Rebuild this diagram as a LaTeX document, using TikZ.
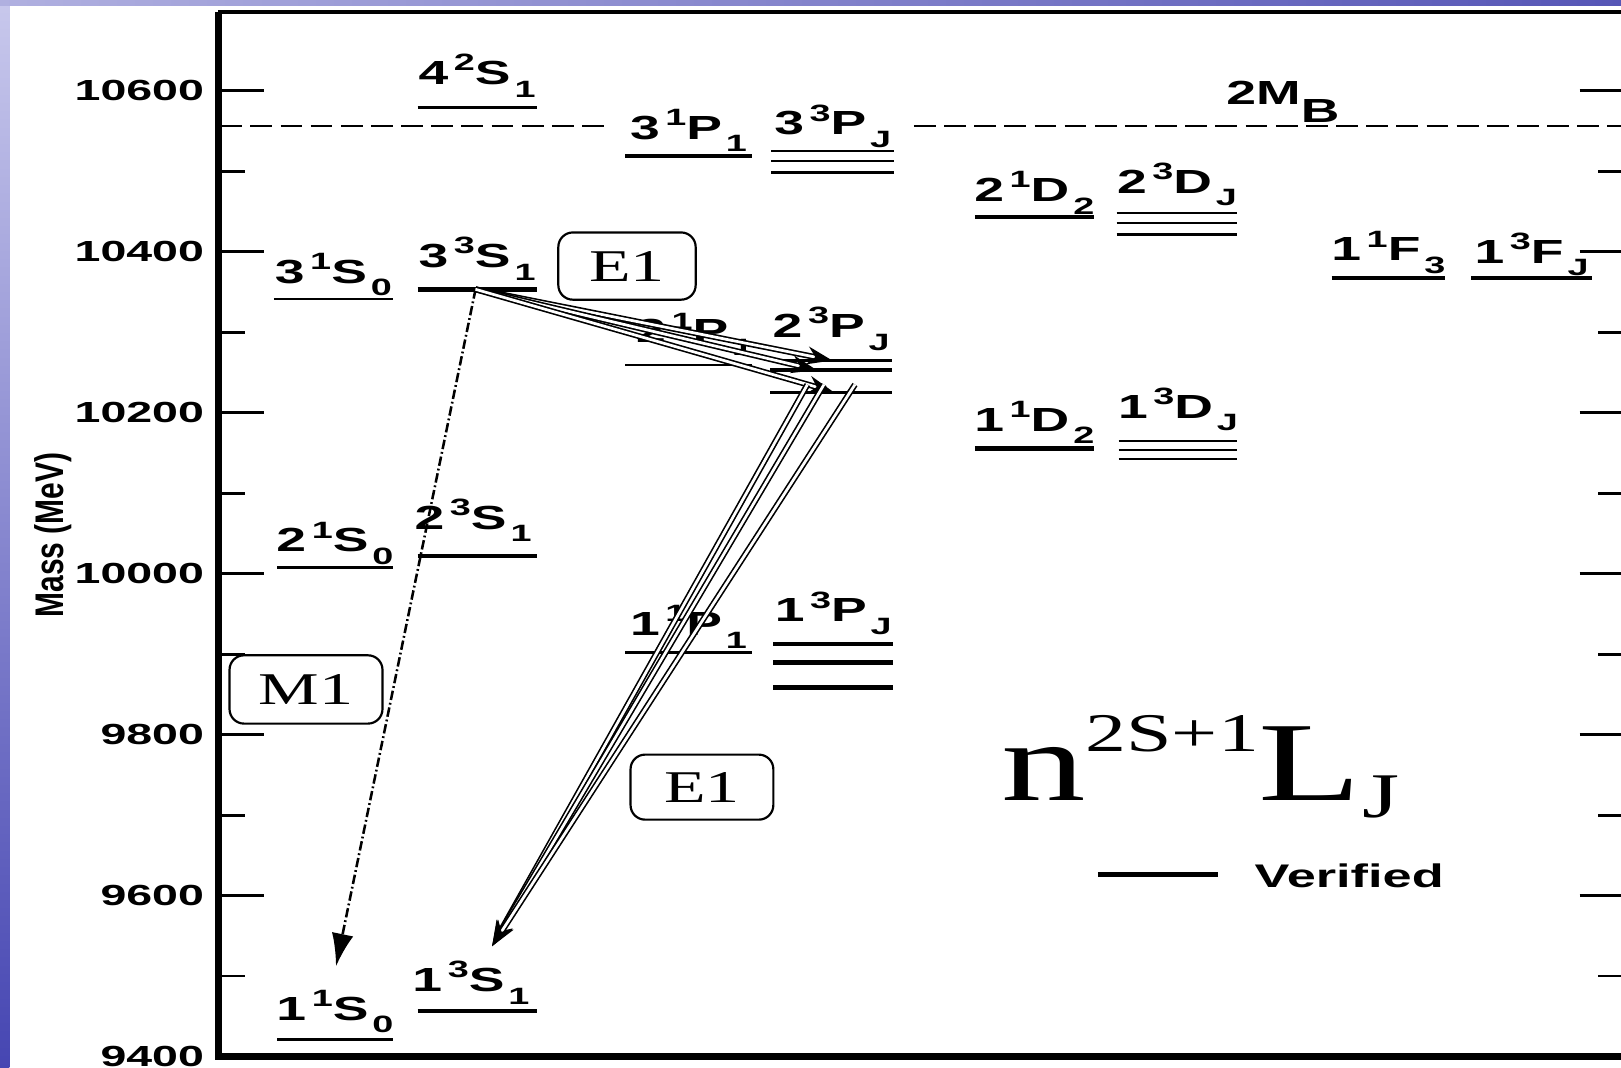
\documentclass[tikz,border=0pt]{standalone}
\usepackage{fontspec}
\setsansfont{Liberation Sans}
\newfontfamily\lblfont{Liberation Sans}[FakeStretch=1.6]
\newfontfamily\ttlfont{Liberation Sans}[FakeStretch=0.75]
\newfontfamily\serlbl{Liberation Serif}[FakeStretch=1.5]
\usepackage{tikz}
\usetikzlibrary{arrows.meta, positioning}
\definecolor{slidetop}{RGB}{200,200,236}
\definecolor{slidebot}{RGB}{70,70,178}
\definecolor{bandlt}{RGB}{176,176,224}
\definecolor{banddk}{RGB}{86,86,182}
\newcommand{\lvl}[4]{#1\,\raisebox{3.8pt}{\fontsize{6.5}{7}\selectfont #2}#3\raisebox{-3.5pt}{\fontsize{6.5}{7}\selectfont\,#4}}

\begin{document}
\begin{tikzpicture}[
  x=0.1mm, y=0.07783mm,
  every node/.style={inner sep=0pt},
  lbl/.style={font=\lblfont\bfseries\fontsize{9.2}{10}\selectfont},
  num/.style={font=\lblfont\bfseries\fontsize{8}{9}\selectfont, anchor=east},
  lvlbold/.style={line width=1.3pt},
  lvlmed/.style={line width=0.9pt},
  lvlthin/.style={line width=0.6pt},
  axis/.style={line width=2pt},
  tick/.style={line width=0.8pt},
  thresh/.style={line width=0.6pt, dash pattern=on 6pt off 2.3pt},
  mult/.style={draw, rounded corners=4pt, line width=0.6pt,
               font=\serlbl\fontsize{12.5}{13}\selectfont,
               minimum width=37.8pt, minimum height=18.5pt},
  mone/.style={line width=0.7pt, dash pattern=on 2.6pt off 0.8pt on 0.5pt off 0.8pt,
               -{Latex[length=9pt, width=6pt]}},
  eone/.style={double, line width=0.45pt, double distance=0.75pt,
               -{Stealth[length=7pt, width=5pt]}},
]

% ── page and slide border ──
\useasboundingbox (0,9385.87) rectangle (1568,10713.12);
\clip (0,9385.87) rectangle (1568,10713.12);
\fill[white] (0,9385.87) rectangle (1568,10713.12);
\shade[top color=slidetop, bottom color=slidebot] (0,9385.87) rectangle (9,10713.12);
\shade[left color=bandlt, right color=banddk] (0,10706.7) rectangle (1568,10713.12);

% ── frame and ticks ──
\coordinate (orig) at (211,9400);
\coordinate (ytop) at (211,10698.6);
\coordinate (xend) at (1574,9400);
\coordinate (corner) at (1574,10698.6);
\draw[line width=1.1pt] (ytop) -- (corner) -- (xend);
\draw[axis] (ytop) -- (orig) -- (xend);
\foreach \m in {9400,9600,...,10600}{
  \draw[tick] (213,\m) -- (255,\m);
  \draw[tick] (1528,\m) -- (1574,\m);
  \node[num] (t\m) at (198,\m) {\m};
}
\foreach \m in {9500,9700,...,10500}{
  \draw[tick] (213,\m) -- (237,\m);
  \draw[tick] (1546,\m) -- (1574,\m);
}
\node[font=\ttlfont\bfseries\fontsize{11}{12}\selectfont, rotate=90] (ytitle) at (51,10048) {Mass (MeV)};

% ── BB threshold ──
\draw[thresh] (213,10556.4) -- (588,10556.4);
\draw[thresh] (884,10556.4) -- (1574,10556.4);
\node[lbl, anchor=base] (mbb) at (1241,10582.7) {2M\raisebox{-4.8pt}{B}};

% ── S waves ──
\draw[lvlmed] (404,10579.5) -- (519,10579.5) coordinate[midway] (s4t);
\node[lbl, above=2.6pt of s4t] (l4s) {\lvl{4}{2}{S}{1}};
\draw[lvlthin] (265,10341.8) -- (380,10341.8) coordinate[midway] (s3s);
\node[lbl, above=0.5pt of s3s] (l3s0) {\lvl{3}{1}{S}{0}};
\draw[lvlbold] (404,10353.4) -- (519,10353.4) coordinate[midway] (s3t);
\node[lbl, above=2.3pt of s3t] (l3s1) {\lvl{3}{3}{S}{1}};
\draw[lvlmed] (268,10007.7) -- (380,10007.7) coordinate[midway] (s2s);
\node[lbl, above=0.5pt of s2s] (l2s0) {\lvl{2}{1}{S}{0}};
\draw[lvlbold] (404,10021.9) -- (519,10021.9) coordinate[midway] (s2t);
\node[lbl, above=3.7pt of s2t, xshift=-1.1pt] (l2s1) {\lvl{2}{3}{S}{1}};
\draw[lvlmed] (268,9420.6) -- (380,9420.6) coordinate[midway] (s1s);
\node[lbl, above=1.7pt of s1s] (l1s0) {\lvl{1}{1}{S}{0}};
\draw[lvlbold] (404,9456.5) -- (519,9456.5) coordinate[midway] (s1t);
\node[lbl, above=1.7pt of s1t, xshift=-1.7pt] (l1s1) {\lvl{1}{3}{S}{1}};

% ── P waves ──
\draw[lvlmed] (605,10519.1) -- (727,10519.1) coordinate[midway] (p3s);
\node[lbl, above=0.9pt of p3s] (l3p1) {\lvl{3}{1}{P}{1}};
\draw[lvlthin] (746,10525.5) -- (865,10525.5) coordinate[midway] (p3t);
\draw[lvlthin] (746,10512.7) -- (865,10512.7);
\draw[lvlthin] (746,10498.5) -- (865,10498.5);
\node[lbl, above=0.6pt of p3t] (l3pj) {\lvl{3}{3}{P}{J}};
\draw[lvlthin] (605,10259.6) -- (727,10259.6) coordinate[midway] (p2s);
\node[lbl, above=2.3pt of p2s, xshift=1.7pt] (l2p1) {\lvl{2}{1}{P}{1}};
\draw[lvlmed] (745,10264.7) -- (863,10264.7) coordinate[midway] (p2t);
\draw[lvlmed] (745,10253.2) -- (863,10253.2);
\draw[lvlmed] (745,10224.9) -- (863,10224.9);
\node[lbl, above=2.6pt of p2t] (l2pj) {\lvl{2}{3}{P}{J}};
\draw[lvlmed] (605,9902.4) -- (727,9902.4) coordinate[midway] (p1s);
\node[lbl, above=0.9pt of p1s] (l1p1) {\lvl{1}{1}{P}{1}};
\draw[lvlbold] (748,9912.7) -- (864,9912.7) coordinate[midway] (p1t);
\draw[lvlbold] (748,9889.5) -- (864,9889.5);
\draw[lvlbold] (748,9858.7) -- (864,9858.7);
\node[lbl, above=2.3pt of p1t] (l1pj) {\lvl{1}{3}{P}{J}};

% ── D and F waves ──
\draw[lvlbold] (943,10443.3) -- (1058,10443.3) coordinate[midway] (d2s);
\node[lbl, above=0.6pt of d2s] (l2d2) {\lvl{2}{1}{D}{2}};
\draw[lvlthin] (1080,10448.4) -- (1197,10448.4) coordinate[midway] (d2t);
\draw[lvlthin] (1080,10435.6) -- (1197,10435.6);
\draw[lvlthin] (1080,10421.5) -- (1197,10421.5);
\node[lbl, above=1.7pt of d2t] (l2dj) {\lvl{2}{3}{D}{J}};
\draw[lvlbold] (943,10155.5) -- (1058,10155.5) coordinate[midway] (d1s);
\node[lbl, above=1.1pt of d1s] (l1d2) {\lvl{1}{1}{D}{2}};
\draw[lvlthin] (1082,10164.5) -- (1197,10164.5) coordinate[midway] (d1t);
\draw[lvlthin] (1082,10154.2) -- (1197,10154.2);
\draw[lvlthin] (1082,10142.6) -- (1197,10142.6);
\node[lbl, above=2.6pt of d1t] (l1dj) {\lvl{1}{3}{D}{J}};
\draw[lvlbold] (1288,10367.5) -- (1398,10367.5) coordinate[midway] (f1s);
\node[lbl, above=0.9pt of f1s] (l1f3) {\lvl{1}{1}{F}{3}};
\draw[lvlbold] (1423,10367.5) -- (1540,10367.5) coordinate[midway] (f1t);
\node[lbl, above=0.3pt of f1t] (l1fj) {\lvl{1}{3}{F}{J}};

% ── notation and legend ──
\node[font=\serlbl\fontsize{31}{34}\selectfont, anchor=base] (nota) at (1161,9718.6)
  {n\raisebox{13.4pt}{\fontsize{15}{15}\selectfont 2S+1}L\raisebox{-4.8pt}{\fontsize{17.5}{18}\selectfont J}};
\draw[line width=1.4pt] (1062,9626.1) coordinate (vleft) -- (1178,9626.1) coordinate (vright);
\node[lbl, font=\lblfont\bfseries\fontsize{9}{10}\selectfont, anchor=west] (verif) at (1213,9624.8) {Verified};

% ── transitions ──
\coordinate (s3src) at (460,10353.4);
\coordinate (m1tip) at (325,9512);
\draw[mone] (s3src) -- (m1tip);
\coordinate (p2a) at (805,10265);
\coordinate (p2b) at (790,10253);
\coordinate (p2c) at (806,10226);
\foreach \t in {p2a,p2b,p2c} \draw[eone] (s3src) -- (\t);
\coordinate (q2a) at (781,10235);
\coordinate (q2b) at (797,10235);
\coordinate (q2c) at (827,10235);
\coordinate (s1tip) at (476,9537);
\foreach \t in {q2a,q2b,q2c} \draw[eone] (\t) -- (s1tip);

% ── multipole boxes ──
\node[mult] (e1top) at (606.5,10382.3) {E1};
\node[mult, minimum width=39.3pt, minimum height=17.9pt] (e1bot) at (679,9734.7) {E1};
\node[mult, minimum width=42.1pt, minimum height=18.8pt] (m1box) at (296,9856.1) {M1};

\end{tikzpicture}
\end{document}
